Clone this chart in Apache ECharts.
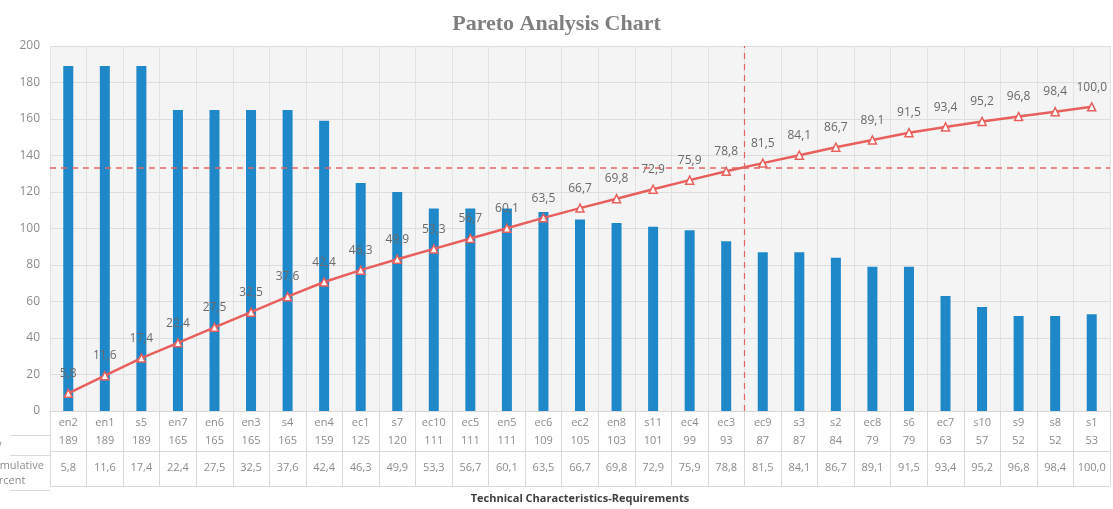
<!DOCTYPE html>
<html><head><meta charset="utf-8">
<script src="https://cdn.jsdelivr.net/npm/echarts@6/dist/echarts.min.js"></script>
<style>html,body{margin:0;padding:0;background:#fff}#c{width:1113px;height:509px}</style>
</head><body><div id="c"></div>
<script>
const categories = ['en2','en1','s5','en7','en6','en3','s4','en4','ec1','s7','ec10','ec5','en5','ec6','ec2','en8','s11','ec4','ec3','ec9','s3','s2','ec8','s6','ec7','s10','s9','s8','s1'];
const frequency = [189,189,189,165,165,165,165,159,125,120,111,111,111,109,105,103,101,99,93,87,87,84,79,79,63,57,52,52,53];
const cumulativePercent = [5.8,11.6,17.4,22.4,27.5,32.5,37.6,42.4,46.3,49.9,53.3,56.7,60.1,63.5,66.7,69.8,72.9,75.9,78.8,81.5,84.1,86.7,89.1,91.5,93.4,95.2,96.8,98.4,100.0];
const paretoThreshold = 80;     // percent
const cutoffBoundary = 19;      // boundary between ec3 and ec9
const yTicks = [0, 200, 20];    // min, max, step

const fmt = v => Number(v).toFixed(1).replace('.', ',');
const gray = '#8c8c8c';
const tableLine = '#d9d9d9';

const chart = echarts.init(document.getElementById('c'));
chart.setOption({
  animation: false,
  title: {
    text: 'Pareto Analysis Chart', left: 'center', top: 8,
    textStyle: {fontFamily: 'Liberation Serif', fontWeight: 'bold', fontSize: 22, color: '#7f7f7f'}
  },
  grid: {left: 50, right: 3, top: 46, bottom: 94, show: true, backgroundColor: '#f4f4f4', borderWidth: 0},
  xAxis: [
    {type: 'category', data: categories, position: 'bottom',
     axisLine: {lineStyle: {color: tableLine}},
     axisTick: {show: true, interval: 0, length: 75, lineStyle: {color: tableLine}},
     axisLabel: {interval: 0, color: gray, fontSize: 11, margin: 6, fontFamily: 'Open Sans'},
     splitLine: {show: true, interval: 0, lineStyle: {color: '#e2e2e2'}}},
    {type: 'category', data: frequency.map(String), position: 'bottom', offset: 20,
     axisLine: {show: true, lineStyle: {color: tableLine}}, axisTick: {show: false},
     axisLabel: {interval: 0, color: gray, fontSize: 11, margin: 4, fontFamily: 'Open Sans'}},
    {type: 'category', data: cumulativePercent.map(fmt), position: 'bottom', offset: 40,
     axisLine: {show: true, lineStyle: {color: tableLine}}, axisTick: {show: false},
     axisLabel: {interval: 0, color: gray, fontSize: 11, margin: 11, fontFamily: 'Open Sans'}},
    {type: 'category', data: categories, position: 'bottom', offset: 75,
     axisLine: {show: true, lineStyle: {color: tableLine}}, axisTick: {show: false},
     axisLabel: {show: false},
     name: 'Technical Characteristics-Requirements', nameLocation: 'middle', nameGap: 7,
     nameTextStyle: {fontWeight: 'bold', color: '#404040', fontSize: 11, fontFamily: 'Open Sans'}},
    {type: 'value', min: 0, max: categories.length, show: false}
  ],
  yAxis: [
    {type: 'value', min: yTicks[0], max: yTicks[1], interval: yTicks[2],
     axisLine: {show: false}, axisTick: {show: false},
     axisLabel: {color: gray, fontSize: 12, margin: 10, fontFamily: 'Open Sans'},
     splitLine: {lineStyle: {color: '#dedede'}}},
    {type: 'value', min: 0, max: 120, show: false, splitLine: {show: false}}
  ],
  graphic: [
    {type: 'text', left: -52, top: 439, style: {text: 'Frequency', fill: gray, fontSize: 11, fontFamily: 'Open Sans'}},
    {type: 'text', left: -14, top: 458, style: {text: 'Cumulative\nPercent', fill: gray, fontSize: 11, lineHeight: 15, fontFamily: 'Open Sans', align: 'center'}},
    {type: 'line', shape: {x1: 10, y1: 435.5, x2: 50, y2: 435.5}, style: {stroke: tableLine}},
    {type: 'line', shape: {x1: 10, y1: 455.5, x2: 50, y2: 455.5}, style: {stroke: tableLine}},
    {type: 'line', shape: {x1: 10, y1: 490.5, x2: 50, y2: 490.5}, style: {stroke: tableLine}}
  ],
  series: [
    {type: 'bar', data: frequency, barWidth: 10, itemStyle: {color: '#1e88c8'}, z: 2},
    {type: 'line', data: cumulativePercent, yAxisIndex: 1,
     lineStyle: {color: '#e8605e', width: 2.5},
     symbol: 'triangle', symbolSize: 8,
     itemStyle: {color: '#fff', borderColor: '#e8605e', borderWidth: 1.5},
     label: {show: true, position: 'top', distance: 9, color: '#6a6a6a', fontSize: 12, fontFamily: 'Open Sans', formatter: p => fmt(p.value)},
     markLine: {silent: true, symbol: 'none', label: {show: false},
       data: [{yAxis: paretoThreshold, lineStyle: {color: '#e06666', type: [6, 5], width: 1.5}}]},
     z: 3},
    {type: 'line', data: [], xAxisIndex: 4, yAxisIndex: 0,
     markLine: {silent: true, symbol: 'none', label: {show: false},
       data: [{xAxis: cutoffBoundary, lineStyle: {color: '#e06666', type: [6, 5], width: 1.2}}]}}
  ]
});
</script></body></html>
